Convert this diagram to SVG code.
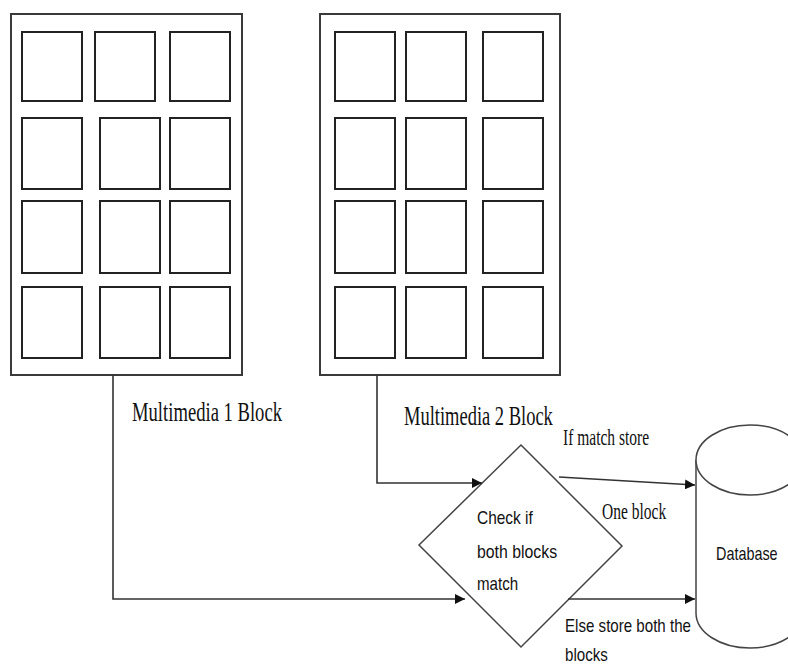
<svg xmlns="http://www.w3.org/2000/svg" width="788" height="666" viewBox="0 0 788 666">
<style>
.frame{fill:#fff;stroke:#3a3a3a;stroke-width:2}
.cell{fill:#fff;stroke:#222;stroke-width:2}
.line{fill:none;stroke:#333;stroke-width:1.6}
.shape{fill:#fff;stroke:#444;stroke-width:1.5}
.serif{font-family:"Liberation Serif","Times New Roman",serif;fill:#111}
.sans{font-family:"Liberation Sans",Arial,sans-serif;fill:#111}
</style>
<defs>
<marker id="arr" viewBox="0 0 10 10" refX="10" refY="5" markerWidth="10" markerHeight="10" markerUnits="userSpaceOnUse" orient="auto">
<path d="M0,0 L10,5 L0,10 Z" fill="#111"/>
</marker>
</defs>
<rect width="788" height="666" fill="#fff"/>
<g id="multimedia1">
<rect class="frame" x="11" y="14" width="231" height="361"/>
<rect class="cell" x="22" y="32" width="60" height="69"/>
<rect class="cell" x="95" y="32" width="60" height="69"/>
<rect class="cell" x="170" y="32" width="60" height="69"/>
<rect class="cell" x="22" y="118" width="60" height="71"/>
<rect class="cell" x="100" y="118" width="60" height="71"/>
<rect class="cell" x="170" y="118" width="60" height="71"/>
<rect class="cell" x="22" y="201" width="60" height="72"/>
<rect class="cell" x="100" y="201" width="60" height="72"/>
<rect class="cell" x="170" y="201" width="60" height="72"/>
<rect class="cell" x="22" y="287" width="60" height="71"/>
<rect class="cell" x="100" y="287" width="60" height="71"/>
<rect class="cell" x="170" y="287" width="60" height="71"/>
<text class="serif" transform="translate(132,421) scale(0.69,1)" font-size="27">Multimedia 1 Block</text>
</g>
<g id="multimedia2">
<rect class="frame" x="320" y="14" width="240" height="361"/>
<rect class="cell" x="335" y="32" width="60" height="69"/>
<rect class="cell" x="406" y="32" width="60" height="69"/>
<rect class="cell" x="483" y="32" width="60" height="69"/>
<rect class="cell" x="335" y="118" width="60" height="71"/>
<rect class="cell" x="406" y="118" width="60" height="71"/>
<rect class="cell" x="483" y="118" width="60" height="71"/>
<rect class="cell" x="335" y="201" width="60" height="72"/>
<rect class="cell" x="406" y="201" width="60" height="72"/>
<rect class="cell" x="483" y="201" width="60" height="72"/>
<rect class="cell" x="335" y="287" width="60" height="71"/>
<rect class="cell" x="406" y="287" width="60" height="71"/>
<rect class="cell" x="483" y="287" width="60" height="71"/>
<text class="serif" transform="translate(404,425) scale(0.685,1)" font-size="27">Multimedia 2 Block</text>
</g>
<g id="check">
<polygon class="shape" points="521,445 622,546 521,647 419,545"/>
<text class="sans" transform="translate(477,524) scale(0.86,1)" font-size="18">Check if</text>
<text class="sans" transform="translate(477,558) scale(0.88,1)" font-size="18">both blocks</text>
<text class="sans" transform="translate(477,590) scale(0.84,1)" font-size="18">match</text>
</g>
<g id="database">
<path class="shape" d="M696,460 L696,613 A54,35 0 0 0 804,613 L804,460"/>
<ellipse class="shape" cx="750" cy="460" rx="54" ry="35"/>
<text class="sans" transform="translate(716,560) scale(0.8,1)" font-size="18">Database</text>
</g>
<g id="connectors">
<polyline class="line" points="113,375 113,599 465,599" marker-end="url(#arr)"/>
<polyline class="line" points="377,375 377,483 482,483" marker-end="url(#arr)"/>
<line class="line" x1="559" y1="477" x2="695" y2="485" marker-end="url(#arr)"/>
<line class="line" x1="568" y1="599" x2="695" y2="599" marker-end="url(#arr)"/>
<text class="serif" transform="translate(563,445) scale(0.69,1)" font-size="22.5">If match store</text>
<text class="serif" transform="translate(602,519) scale(0.69,1)" font-size="22.5">One block</text>
<text class="sans" transform="translate(565,632) scale(0.84,1)" font-size="18">Else store both the</text>
<text class="sans" transform="translate(565,661) scale(0.84,1)" font-size="18">blocks</text>
</g>
</svg>
